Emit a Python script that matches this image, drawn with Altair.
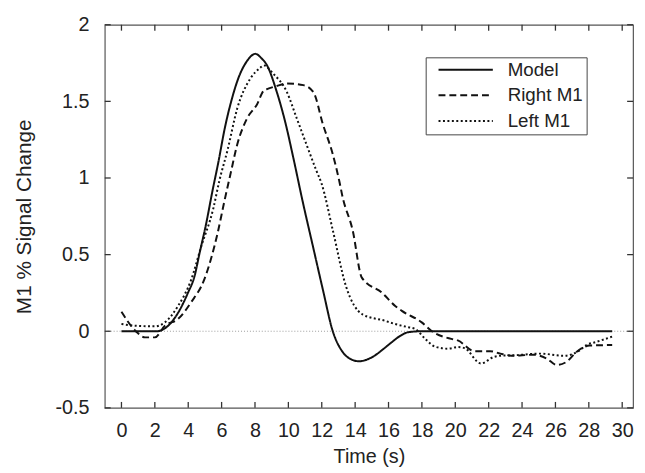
import altair as alt
import pandas as pd

series_names = ["Model", "Right M1", "Left M1"]

model_t = [0, 1, 2.1, 2.8, 3.39, 3.98, 4.38, 4.67, 5.07, 5.46, 5.8, 6.2, 6.6, 7.0, 7.5, 8.02,
           8.4, 8.72, 9.31, 9.8, 10.3, 10.85, 11.48, 12.07, 12.66, 13.25, 13.7, 14.24, 14.7,
           15.2, 15.7, 16.2, 16.7, 17.2, 18, 20, 25, 29.4]
model_v = [0, 0, 0, 0.036, 0.12, 0.25, 0.36, 0.505, 0.70, 0.92, 1.1, 1.33, 1.51, 1.65, 1.76, 1.81,
           1.78, 1.735, 1.56, 1.37, 1.13, 0.85, 0.55, 0.27, 0.0, -0.135, -0.18, -0.196, -0.185,
           -0.157, -0.115, -0.071, -0.03, -0.006, 0, 0, 0, 0]

right_t = [0, 0.92, 1.42, 2.0, 2.6, 3.39, 4.18, 4.97, 5.76, 6.15, 6.54, 6.94, 7.53, 8.12, 8.52,
           8.72, 9.3, 9.9, 10.9, 11.5, 12.07, 12.66, 13.05, 13.25, 13.85, 14.4, 15.62, 16.4,
           16.8, 17.99, 18.6, 19.76, 20.15, 21.14, 22.1, 22.7, 23.5, 24.3, 24.7, 25.5, 26.07,
           26.66, 27.26, 28.05, 29.4]
right_v = [0.127, -0.006, -0.04, -0.04, 0.036, 0.08, 0.19, 0.34, 0.64, 0.84, 1.03, 1.22, 1.39,
           1.48, 1.57, 1.58, 1.60, 1.617, 1.606, 1.56, 1.35, 1.155, 0.98, 0.875, 0.66, 0.35,
           0.25, 0.165, 0.133, 0.058, 0.0, -0.05, -0.06, -0.13, -0.13, -0.146, -0.16, -0.155,
           -0.153, -0.18, -0.22, -0.2, -0.135, -0.093, -0.09]

left_t = [0, 0.83, 2.0, 2.6, 3.39, 4.18, 4.77, 5.5, 5.86, 6.35, 6.94, 7.73, 8.32, 8.52, 9.1,
          9.9, 10.5, 11.08, 11.67, 12.0, 12.66, 13.45, 14.44, 15.8, 16.4, 17.2, 17.6, 18.2,
          18.78, 19.56, 20.15, 20.55, 21.54, 22.3, 22.7, 23.5, 25.1, 26.5, 27.45, 27.85, 28.44,
          29.4]
left_v = [0.047, 0.036, 0.032, 0.058, 0.165, 0.337, 0.55, 0.8, 0.98, 1.18, 1.455, 1.65, 1.72,
          1.735, 1.68, 1.563, 1.39, 1.22, 1.05, 0.96, 0.66, 0.294, 0.11, 0.068, 0.047, 0.026,
          0.015, -0.05, -0.1, -0.114, -0.103, -0.11, -0.21, -0.168, -0.16, -0.157, -0.146,
          -0.16, -0.125, -0.09, -0.07, -0.035]

x_ticks = list(range(0, 31, 2))
y_ticks = [-0.5, 0, 0.5, 1, 1.5, 2]

rows = []
for name, ts, vs in [("Model", model_t, model_v), ("Right M1", right_t, right_v), ("Left M1", left_t, left_v)]:
    for t, v in zip(ts, vs):
        rows.append({"t": t, "v": v, "series": name})
df = pd.DataFrame(rows)

W, H = 535, 388
TL = 6  # inward tick length
FONT = "Liberation Sans"
TICK = "#333"
xscale = alt.Scale(domain=[-1, 30.65], nice=False, zero=False)
yscale = alt.Scale(domain=[-0.5, 2], nice=False, zero=False)
dash = alt.Scale(domain=series_names, range=[[1, 0], [7, 4], [2, 2.5]])

zero = alt.Chart(pd.DataFrame({"y": [0]})).mark_rule(
    color="#9a9a9a", strokeDash=[1, 2], strokeWidth=1
).encode(y=alt.Y("y:Q", scale=yscale, axis=None))

xt = pd.DataFrame({"t": x_ticks})
yt = pd.DataFrame({"v": y_ticks})
tick_style = dict(color=TICK, strokeWidth=1.3)
xt_bottom = alt.Chart(xt).mark_rule(**tick_style).encode(
    x=alt.X("t:Q", scale=xscale, axis=None), y=alt.value(H - TL), y2=alt.value(H))
xt_top = alt.Chart(xt).mark_rule(**tick_style).encode(
    x=alt.X("t:Q", scale=xscale, axis=None), y=alt.value(0), y2=alt.value(TL))
yt_left = alt.Chart(yt).mark_rule(**tick_style).encode(
    y=alt.Y("v:Q", scale=yscale, axis=None), x=alt.value(0), x2=alt.value(TL))
yt_right = alt.Chart(yt).mark_rule(**tick_style).encode(
    y=alt.Y("v:Q", scale=yscale, axis=None), x=alt.value(W - TL), x2=alt.value(W))

lines = alt.Chart(df).mark_line(strokeWidth=2, interpolate="monotone", color="#111").encode(
    x=alt.X("t:Q", scale=xscale, axis=alt.Axis(
        orient="bottom", values=x_ticks, ticks=False, domain=False, grid=False,
        labelPadding=13, labelFontSize=20, labelFont=FONT, labelColor="#222",
        title="Time (s)", titlePadding=6, titleFontSize=20,
        titleFont=FONT, titleFontWeight="normal", titleColor="#222")),
    y=alt.Y("v:Q", scale=yscale, axis=alt.Axis(
        orient="left", values=y_ticks, ticks=False, domain=False, grid=False,
        labelPadding=16, labelFontSize=20, labelFont=FONT, labelColor="#222",
        labelExpr="'' + datum.value",
        title="M1 % Signal Change", titlePadding=21, titleFontSize=21, titleFont=FONT,
        titleFontWeight="normal", titleColor="#222")),
    strokeDash=alt.StrokeDash("series:N", scale=dash, sort=series_names, legend=alt.Legend(
        title=None, orient="none", legendX=325, legendY=33, symbolType="stroke",
        symbolSize=3025, symbolStrokeWidth=2, symbolStrokeColor="#111", clipHeight=19,
        rowPadding=6, padding=3, symbolOffset=9, labelOffset=14, labelFontSize=19,
        labelFont=FONT, labelColor="#222", strokeColor="#444", fillColor="white",
        labelExpr="datum.label + '\u00a0\u00a0\u00a0\u00a0'")),
)

chart = alt.layer(zero, xt_bottom, xt_top, yt_left, yt_right, lines).resolve_axis(
    x="independent", y="independent"
).properties(
    width=W, height=H,
    autosize=alt.AutoSizeParams(type="none"),
    padding={"left": 98, "top": 14, "right": 4, "bottom": 63},
).configure_view(stroke="#555", strokeWidth=1.2)

chart.save("out.html", embed_options={"renderer": "svg", "actions": False})
